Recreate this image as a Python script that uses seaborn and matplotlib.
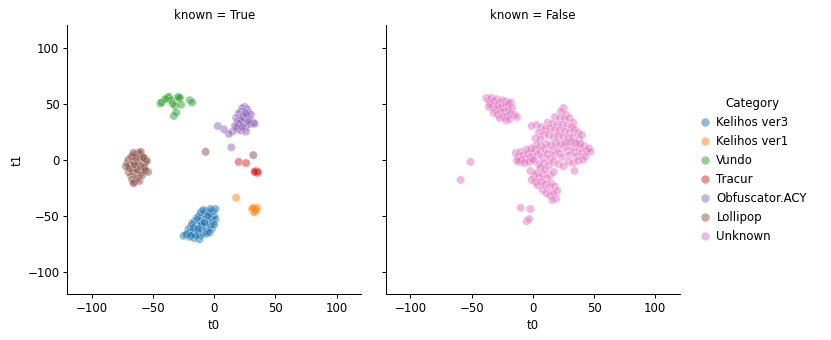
import pandas as pd
import matplotlib.pyplot as plt
import seaborn as sns

categories = ['Kelihos ver3', 'Kelihos ver1', 'Vundo', 'Tracur',
              'Obfuscator.ACY', 'Lollipop', 'Unknown']

kelihos_v3 = [(-25, -68), (-22, -66), (-20, -69), (-18, -64), (-16, -70), (-14, -67), (-12, -71),
              (-21, -62), (-19, -60), (-17, -66), (-15, -62), (-13, -64), (-11, -68), (-9, -66),
              (-7, -64), (-14, -58), (-12, -60), (-10, -62), (-8, -60), (-6, -62), (-4, -60),
              (-16, -55), (-13, -54), (-11, -56), (-9, -54), (-7, -57), (-5, -56), (-3, -58),
              (-1, -56), (-12, -50), (-10, -52), (-8, -49), (-6, -51), (-4, -53), (-2, -52),
              (0, -50), (1, -53), (-7, -46), (-5, -47), (-3, -48), (-1, -46), (1, -44), (-18, -57),
              (-20, -65), (-23, -67), (-15, -68), (-10, -58), (-6, -66), (-2, -62), (-4, -65),
              (-14, -52), (-11, -47), (-9, -45), (0, -58), (-17, -61), (-19, -68), (-13, -62),
              (-8, -56), (-5, -50), (-3, -44)]
kelihos_v1 = [(18, -34), (32, -45), (34, -44), (33, -46), (35, -43), (31, -44), (33, -47),
              (34, -45), (32, -43)]
vundo = [(-44, 50), (-43, 51), (-38, 55), (-37, 56), (-35, 53), (-34, 50), (-30, 55), (-29, 56),
         (-28, 55), (-32, 48), (-27, 49), (-20, 53), (-18, 51), (-33, 39), (-31, 42), (-40, 54)]
tracur = [(20, -2), (26, -3), (34, -11), (35, -12), (34, -10), (36, -11), (35, -11), (33, -11)]
obfuscator = [(25, 47), (23, 46), (27, 45), (22, 43), (25, 43), (28, 42), (20, 41), (24, 40),
              (27, 39), (30, 40), (18, 37), (21, 37), (25, 36), (29, 36), (32, 33), (19, 34),
              (23, 33), (27, 32), (30, 32), (33, 32), (17, 30), (21, 30), (26, 29), (19, 27),
              (22, 26), (26, 25), (15, 25), (12, 23), (8, 27), (3, 30), (14, 11), (24, 38),
              (22, 35), (26, 41), (28, 34), (20, 32), (18, 29), (23, 29)]
lollipop = [(-71, -3), (-70, 0), (-69, -5), (-68, 2), (-67, -8), (-66, -2), (-65, 4), (-64, -6),
            (-63, 1), (-62, -3), (-61, 5), (-60, -1), (-59, 3), (-58, -4), (-57, 1), (-56, -2),
            (-55, -1), (-54, -11), (-70, -11), (-68, -14), (-66, -12), (-64, -15), (-62, -10),
            (-60, -12), (-58, -9), (-67, -18), (-65, -20), (-63, -17), (-61, -19), (-66, -21),
            (-69, -8), (-63, -9), (-60, -6), (-57, -7), (-62, 6), (-60, 7), (-65, -4), (-67, 3),
            (-58, 2), (-64, 2), (-72, -6), (-66, 6), (-59, -14), (-56, -10), (-7, 7), (32, 4)]
unknown = [(-38, 55), (-36, 53), (-34, 55), (-35, 50), (-32, 52), (-30, 54), (-33, 48), (-29, 49),
           (-27, 51), (-25, 53), (-22, 52), (-31, 45), (-28, 46), (-25, 47), (-22, 48), (-20, 50),
           (-18, 51), (-32, 42), (-29, 40), (-26, 42), (-23, 43), (-20, 44), (-17, 46), (-27, 37),
           (-24, 38), (-21, 39), (-18, 41), (-15, 40), (-13, 38), (-22, 35), (-19, 36), (-36, 47),
           (25, 46), (23, 43), (27, 40), (18, 38), (22, 37), (26, 36), (30, 37), (33, 33),
           (12, 33), (16, 32), (20, 31), (24, 31), (28, 30), (32, 29), (3, 31), (7, 29), (10, 27),
           (14, 28), (18, 26), (22, 26), (26, 25), (30, 24), (34, 27), (37, 24), (-1, 30), (5, 24),
           (9, 22), (13, 22), (17, 20), (21, 21), (25, 20), (29, 19), (33, 20), (38, 18), (2, 19),
           (6, 18), (40, 22), (36, 14),
           (-14, 6), (-12, 3), (-10, 7), (-8, 4), (-6, 0), (-4, 5), (-2, 2), (0, 6), (2, 9), (4, 4),
           (6, 7), (8, 2), (10, 9), (12, 5), (14, 1), (16, 8), (18, 4), (20, 10), (22, 6), (24, 2),
           (26, 12), (28, 8), (30, 4), (32, 11), (34, 7), (36, 3), (38, 10), (40, 6), (42, 12),
           (44, 8), (46, 10), (47, 7), (43, 3), (39, 14), (35, 15), (31, 16), (27, 15), (23, 14),
           (19, 15), (15, 13), (11, 14), (7, 12), (3, 13), (-1, 10), (-5, 9), (-9, 0), (-11, -2),
           (-7, -3), (-3, -2), (1, -1), (5, -4), (9, -3), (13, -5), (17, -2), (21, -4), (25, -6),
           (29, -2), (33, -3), (37, -1), (41, 0), (0, 0), (-13, -1),
           (-2, -10), (1, -14), (3, -12), (5, -16), (8, -13), (11, -17), (14, -14), (17, -11),
           (-1, -18), (2, -20), (4, -23), (7, -20), (10, -22), (13, -25), (15, -21), (18, -24),
           (20, -28), (8, -27), (11, -30), (14, -32), (17, -30), (19, -35), (16, -36), (6, -7),
           (10, -9), (34, -10),
           (-10, -43), (-2, -44), (-5, -55), (-3, -53), (-59, -18), (-51, -2)]

points = [kelihos_v3, kelihos_v1, vundo, tracur, obfuscator, lollipop, unknown]

rows = []
for cat, pts in zip(categories, points):
    for t0, t1 in pts:
        rows.append({'t0': t0, 't1': t1, 'Category': cat, 'known': cat != 'Unknown'})
df = pd.DataFrame(rows)

fs = 11.8
plt.rcParams.update({'font.size': fs, 'axes.titlesize': fs, 'axes.labelsize': fs,
                     'xtick.labelsize': fs, 'ytick.labelsize': fs,
                     'legend.fontsize': fs, 'legend.title_fontsize': fs,
                     'axes.linewidth': 1.0, 'xtick.major.size': 4.4, 'ytick.major.size': 4.4,
                     'xtick.major.width': 1.0, 'ytick.major.width': 1.0})

g = sns.relplot(data=df, x='t0', y='t1', hue='Category', hue_order=categories,
                col='known', col_order=[True, False], alpha=0.5, s=70, height=4.7)
g.set(xlim=(-120, 120), ylim=(-120, 120),
      xticks=[-100, -50, 0, 50, 100], yticks=[-100, -50, 0, 50, 100])
g.fig.set_size_inches(831 / 72, 340 / 72)
g.fig.subplots_adjust(left=0.081, right=0.818, bottom=0.135, top=0.926, wspace=0.085)
sns.move_legend(g, 'center left', bbox_to_anchor=(0.828, 0.5), frameon=False,
                handlelength=1.0, handletextpad=0.5)
plt.savefig('out.png', dpi=72)
